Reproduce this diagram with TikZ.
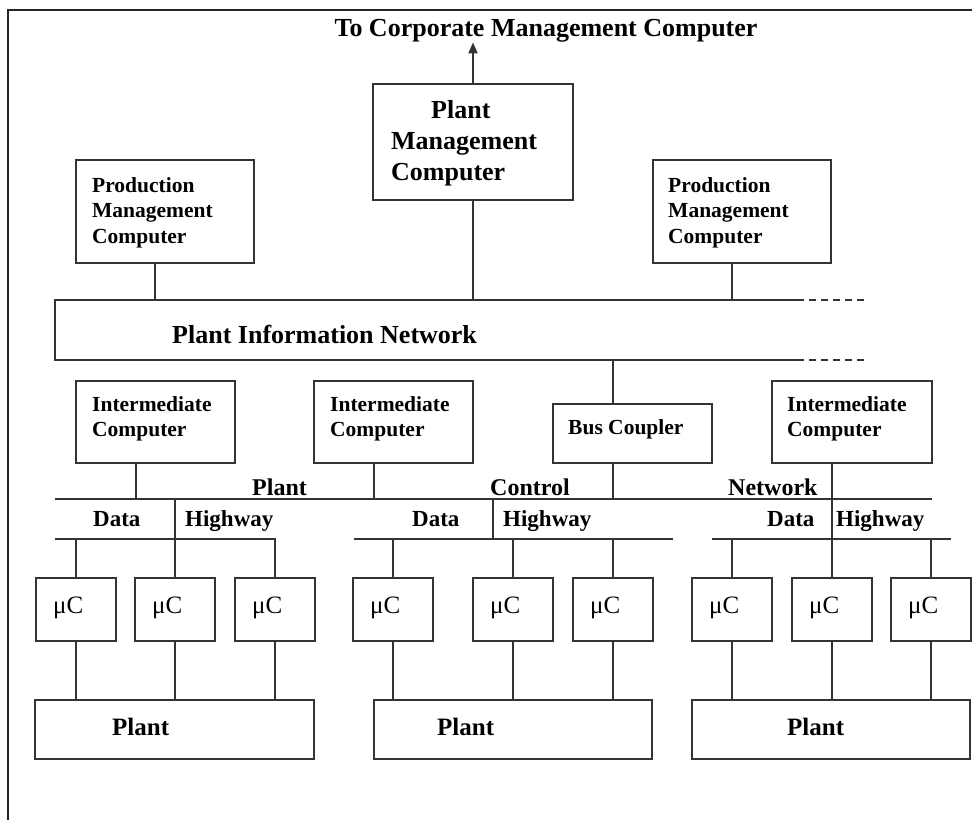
\documentclass[tikz,border=0pt]{standalone}
\usepackage{fontspec}
\setmainfont{Liberation Serif}
\usetikzlibrary{arrows.meta}
\newcommand\ftsm{\fontsize{21.5}{25.5}\selectfont\bfseries}
\newcommand\ftpm{\fontsize{26}{31}\selectfont\bfseries}
\newcommand\ftbig{\fontsize{26}{31}\selectfont\bfseries}
\newcommand\ftbus{\fontsize{24}{28}\selectfont\bfseries}
\newcommand\ftdh{\fontsize{23}{27}\selectfont\bfseries}
\newcommand\ftmu{\fontsize{25}{29}\selectfont}
\newcommand\ftpl{\fontsize{25}{29}\selectfont\bfseries}
\begin{document}
\begin{tikzpicture}[x=1pt,y=-1pt,
  ln/.style={draw=black!80,line width=2pt},
  blk/.style={draw=black!80,line width=2pt,rectangle,inner sep=0pt},
  lab/.style={inner sep=0pt,align=left,anchor=north west},
  blab/.style={inner sep=0pt,anchor=base west},
  mubox/.style={blk,minimum width=80pt,minimum height=63pt},
  plbox/.style={blk,minimum width=278pt,minimum height=59pt},
  icbox/.style={blk,minimum width=159pt,minimum height=82pt},
  pmbox/.style={blk,minimum width=178pt,minimum height=103pt}]
\useasboundingbox (0,0) rectangle (972,820);
\fill[white] (0,0) rectangle (972,820);
% frame
\draw[draw=black!85,line width=2.5pt] (972,10) -- (8,10) -- (8,820);

% top
\node[inner sep=0pt,anchor=base,font=\ftbig] (title) at (546,36.5) {To Corporate Management Computer};
\node[blk,minimum width=200pt,minimum height=116pt] (pmc) at (473,142) {};
\node[lab,font=\ftpm] (pmct) at (391,100.5) {\hspace*{40pt}Plant\\Management\\Computer};
\node[pmbox] (lpmc) at (165,211.5) {};
\node[lab,font=\ftsm] (lpmct) at (92,177) {Production\\Management\\Computer};
\node[pmbox] (rpmc) at (742,211.5) {};
\node[lab,font=\ftsm] (rpmct) at (668,177) {Production\\Management\\Computer};

% plant information network
\node[minimum width=742pt,minimum height=60pt,inner sep=0pt] (net) at (426,330) {};
\draw[ln] (net.north east) -- (net.north west) -- (net.south west) -- (net.south east);
\draw[ln,dash pattern=on 7pt off 5pt] (net.north east) -- ++(71,0);
\draw[ln,dash pattern=on 7pt off 5pt] (net.south east) -- ++(71,0);
\node[lab,font=\ftbig] (nett) at (172,325) {Plant Information Network};

\draw[ln,-{Triangle[length=11pt,width=9pt]}] (pmc.north) -- (pmc.north |- title.south);
\draw[ln] (pmc.south) -- (pmc.south |- net.north);
\coordinate (lp) at ([xshift=-10pt]lpmc.south);
\draw[ln] (lp) -- (lp |- net.north);
\coordinate (rp) at ([xshift=-10pt]rpmc.south);
\draw[ln] (rp) -- (rp |- net.north);

% intermediate level
\node[icbox] (ic1) at (155.5,422) {};
\node[lab,font=\ftsm] (ic1t) at (92,396) {Intermediate\\Computer};
\node[icbox] (ic2) at (393.5,422) {};
\node[lab,font=\ftsm] (ic2t) at (330,396) {Intermediate\\Computer};
\node[icbox,minimum width=160pt] (ic3) at (852,422) {};
\node[lab,font=\ftsm] (ic3t) at (787,396) {Intermediate\\Computer};
\node[blk,minimum width=159pt,minimum height=59pt] (bc) at (632.5,433.5) {};
\node[lab,font=\ftsm] (bct) at (568,419) {Bus Coupler};

\coordinate (bcn) at ([xshift=-19.5pt]bc.north);
\draw[ln] (bcn |- net.south) -- (bcn);

% plant control network
\coordinate (pcnL) at (55,499);
\coordinate (pcnR) at (932,499);
\draw[ln] (pcnL) -- (pcnR);
\node[blab,font=\ftbus] (l1) at (252,495) {Plant};
\node[blab,font=\ftbus] (l2) at (490,495) {Control};
\node[blab,font=\ftbus] (l3) at (728,495) {Network};

\coordinate (c1) at ([xshift=-19.5pt]ic1.south);
\draw[ln] (c1) -- (c1 |- pcnL);
\coordinate (c2) at ([xshift=-19.5pt]ic2.south);
\draw[ln] (c2) -- (c2 |- pcnL);
\coordinate (cb) at ([xshift=-19.5pt]bc.south);
\draw[ln] (cb) -- (cb |- pcnL);

% data highways
\coordinate (dh1L) at (55,539);
\coordinate (dh2L) at (354,539);
\coordinate (dh2R) at (673,539);
\coordinate (dh3L) at (712,539);
\coordinate (dh3R) at (951,539);
\draw[ln] (dh2L) -- (dh2R);
\draw[ln] (dh3L) -- (dh3R);
\node[blab,font=\ftdh] (d1) at (93,526) {Data};
\node[blab,font=\ftdh] (h1) at (185,526) {Highway};
\node[blab,font=\ftdh] (d2) at (412,526) {Data};
\node[blab,font=\ftdh] (h2) at (503,526) {Highway};
\node[blab,font=\ftdh] (d3) at (767,526) {Data};
\node[blab,font=\ftdh] (h3) at (836,526) {Highway};
\coordinate (j2) at (493,499);
\draw[ln] (j2) -- (j2 |- dh2L);

% microcomputers
\foreach \i/\cx in {1/76,2/175,3/275,4/393,5/513,6/613,7/732,8/832,9/931}{
  \node[mubox] (mu\i) at (\cx,609.5) {};
  \node[blab,font=\ftmu] (mut\i) at (\cx-23,613) {μC};
}
\draw[ln] (dh1L) -- (dh1L -| mu3.north) -- (mu3.north);
\draw[ln] (mu1.north) -- (mu1.north |- dh1L);
\draw[ln] (mu2.north) -- (mu2.north |- pcnL);
\foreach \i in {4,5,6}{\draw[ln] (mu\i.north) -- (mu\i.north |- dh2L);}
\foreach \i in {7,9}{\draw[ln] (mu\i.north) -- (mu\i.north |- dh3L);}
\draw[ln] (ic3.south -| mu8.north) -- (mu8.north);

% plants
\node[plbox,minimum width=279pt] (pl1) at (174.5,729.5) {};
\node[plbox] (pl2) at (513,729.5) {};
\node[plbox] (pl3) at (831,729.5) {};
\node[blab,font=\ftpl] (pl1t) at (112,735) {Plant};
\node[blab,font=\ftpl] (pl2t) at (437,735) {Plant};
\node[blab,font=\ftpl] (pl3t) at (787,735) {Plant};
\foreach \i in {1,2,3}{\draw[ln] (mu\i.south) -- (mu\i.south |- pl1.north);}
\foreach \i in {4,5,6}{\draw[ln] (mu\i.south) -- (mu\i.south |- pl2.north);}
\foreach \i in {7,8,9}{\draw[ln] (mu\i.south) -- (mu\i.south |- pl3.north);}
\end{tikzpicture}
\end{document}
